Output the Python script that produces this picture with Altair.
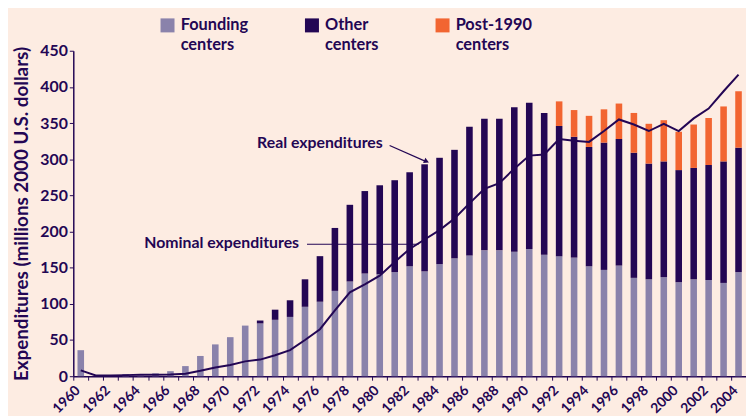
import altair as alt
import pandas as pd

years = list(range(1960, 2005))
founding = [36, 0, 0, 3, 1, 4, 7, 14, 28, 44, 54, 70, 73, 78, 82, 96, 103, 118, 131, 142,
            141, 144, 152, 145, 155, 163, 167, 174, 174, 172, 176, 168, 166, 164, 152, 147,
            153, 136, 134, 137, 130, 134, 133, 129, 144]
other = [0, 0, 0, 0, 0, 0, 0, 0, 0, 0, 0, 0, 4, 14, 23, 38, 63, 87, 106, 114,
         123, 127, 130, 148, 147, 150, 178, 182, 182, 200, 202, 196, 180, 167, 165, 176,
         175, 173, 160, 160, 155, 154, 159, 168, 172]
post1990 = [0] * 32 + [34, 37, 43, 46, 49, 55, 55, 57, 53, 60, 65, 76, 78]
nominal = [8, 1, 1, 1.5, 2, 2, 2.5, 3.5, 7.5, 12, 15.5, 20.5, 23, 29, 36, 50, 65, 91, 116, 127,
           139, 158, 176, 189, 202, 218, 239, 259, 267, 287, 305, 306.5, 328, 325.5, 324, 339,
           355, 348, 339, 349, 339, 356.5, 370, 394, 417]

series_names = ["Founding centers", "Other centers", "Post-1990 centers"]
series_colors = ["#8a82ab", "#230654", "#f26531"]

real_label = ["Real expenditures"]
real_year = [1980]
real_value = [323]
nominal_label = ["Nominal expenditures"]
nominal_year = [1975]
nominal_value = [183.5]

DARK = "#230654"
FONT = "Lato"

rows = []
for i, yr in enumerate(years):
    for k, (name, vals) in enumerate(zip(series_names, [founding, other, post1990])):
        rows.append({"year": yr, "series": name, "ord": k, "value": vals[i]})
bars_df = pd.DataFrame(rows)
line_df = pd.DataFrame({"year": years, "nominal": nominal})
real_df = pd.DataFrame({"year": real_year, "value": real_value, "label": real_label})
nom_df = pd.DataFrame({"year": nominal_year, "value": nominal_value, "label": nominal_label})
leader_df = pd.DataFrame({"year": [1975], "year2": [1982], "value": [182.5]})
arrow_df = pd.DataFrame({"year": [1980], "year2": [1983], "value": [319], "value2": [297]})
head_df = pd.DataFrame({"year": [1983], "value": [297]})

W = 680
H = 329
step = W / len(years)

x_scale = alt.Scale(paddingInner=0.56, paddingOuter=0.28)
y_scale = alt.Scale(domain=[0, 450], nice=False)

x_axis = alt.Axis(
    title=None, labelAngle=-45, labelFont=FONT, labelFontWeight="bold", labelFontSize=14,
    labelColor=DARK, labelExpr="datum.value % 2 == 0 ? datum.label : ''",
    tickOffset=-step / 2, labelOffset=step / 2 - 8, tickSize=4, tickColor=DARK,
    domainColor=DARK, domainWidth=1.5, labelPadding=3, labelOverlap=False,
)
y_axis = alt.Axis(
    title="Expenditures (millions 2000 U.S. dollars)", values=list(range(0, 451, 50)),
    grid=False, labelFont=FONT, labelFontWeight="bold", labelFontSize=16, labelColor=DARK,
    titleFont=FONT, titleFontWeight="bold", titleFontSize=19, titleColor=DARK,
    titlePadding=8, tickSize=4, tickColor=DARK, domainColor=DARK, domainWidth=1.5,
    labelPadding=2, labelOverlap=False,
)

X = alt.X("year:O", scale=x_scale, axis=x_axis)


def Y(field):
    return alt.Y(field, scale=y_scale, axis=y_axis)


bars = alt.Chart(bars_df).mark_bar().encode(
    x=X,
    y=alt.Y("value:Q", stack="zero", scale=y_scale, axis=y_axis),
    color=alt.Color(
        "series:N",
        scale=alt.Scale(domain=series_names, range=series_colors),
        legend=alt.Legend(
            title=None, orient="none", legendX=87, legendY=-34, direction="horizontal",
            symbolType="square", symbolSize=200, symbolStrokeWidth=0,
            labelFont=FONT, labelFontWeight="bold", labelFontSize=16.5, labelColor=DARK,
            labelExpr="split(datum.label, ' ')", labelBaseline="middle", labelOffset=5,
            columnPadding=56, padding=0, labelLimit=200,
        ),
    ),
    order=alt.Order("ord:Q", sort="ascending"),
)

line = alt.Chart(line_df).mark_line(color=DARK, strokeWidth=2).encode(
    x=X, y=Y("nominal:Q")
)

text_style = dict(align="right", baseline="middle", font=FONT, fontWeight="bold",
                  fontSize=16, color=DARK)
real_text = alt.Chart(real_df).mark_text(dx=3, **text_style).encode(
    x=X, y=Y("value:Q"), text="label:N")
nom_text = alt.Chart(nom_df).mark_text(dx=-6, **text_style).encode(
    x=X, y=Y("value:Q"), text="label:N")

leader = alt.Chart(leader_df).mark_rule(color=DARK, strokeWidth=1.2, xOffset=2, x2Offset=9).encode(
    x=X, x2="year2:O", y=Y("value:Q")
)

arrow = alt.Chart(arrow_df).mark_rule(color=DARK, strokeWidth=1.2, xOffset=10, x2Offset=1).encode(
    x=X, x2="year2:O", y=Y("value:Q"), y2="value2:Q"
)
arrow_head = alt.Chart(head_df).mark_point(
    shape="triangle-right", filled=True, color=DARK, size=35, angle=23.5, opacity=1, xOffset=2
).encode(x=X, y=Y("value:Q"))

chart = alt.layer(bars, line, leader, arrow, arrow_head, real_text, nom_text).properties(
    width=W, height=H,
    autosize=alt.AutoSizeParams(type="none"),
    padding={"left": 66, "top": 41, "right": 0, "bottom": 38},
    background="#fdece2",
)

try:
    chart = chart.configure(style={"guide-label": {"lineHeight": 20}})
    chart = chart.configure_view(stroke=None)
    chart.to_dict()
except Exception:
    chart = alt.layer(bars, line, leader, arrow, arrow_head, real_text, nom_text).properties(
        width=W, height=H,
        autosize=alt.AutoSizeParams(type="none"),
        padding={"left": 66, "top": 41, "right": 0, "bottom": 38},
        background="#fdece2",
    ).configure_view(stroke=None)

chart.save("out.html", embed_options={"renderer": "svg", "actions": False})
